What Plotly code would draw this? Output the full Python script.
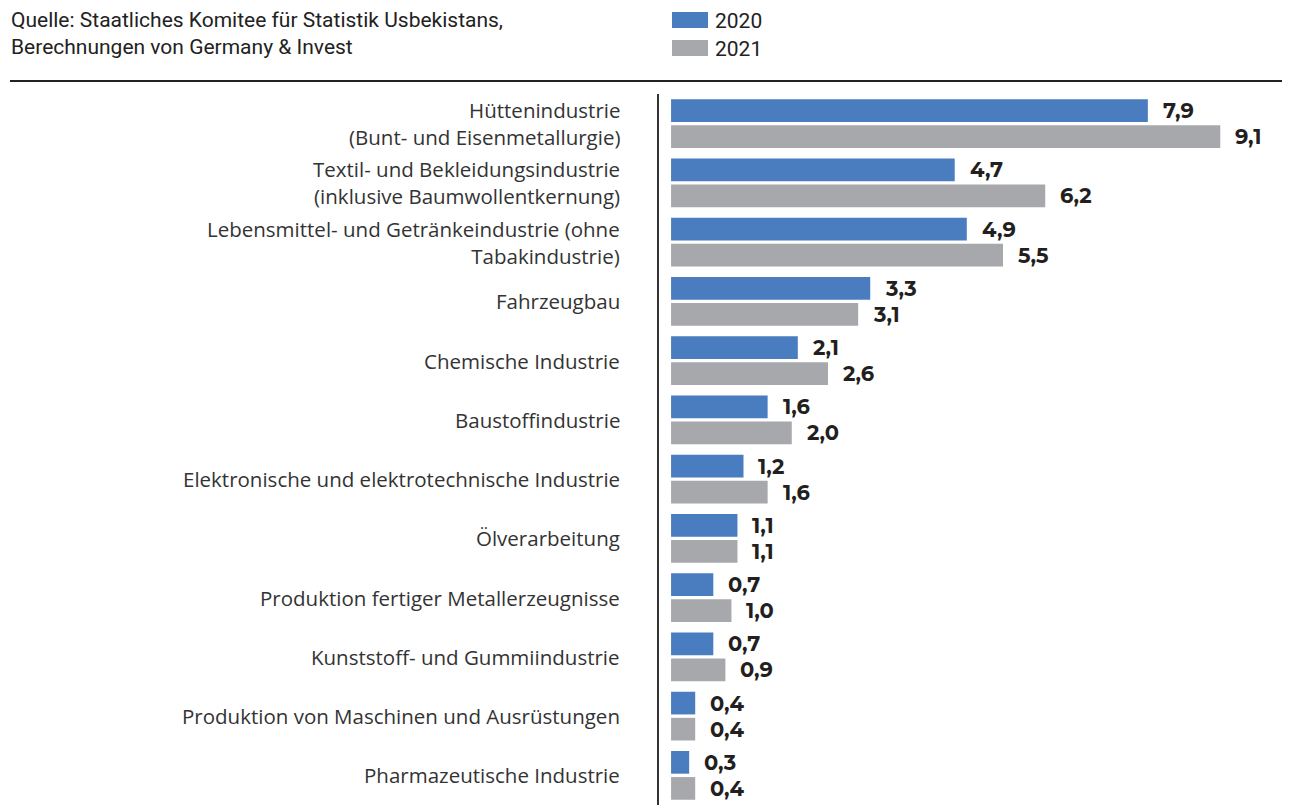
import plotly.graph_objects as go

categories = [
    "Hüttenindustrie<br>(Bunt- und Eisenmetallurgie)",
    "Textil- und Bekleidungsindustrie<br>(inklusive Baumwollentkernung)",
    "Lebensmittel- und Getränkeindustrie (ohne<br>Tabakindustrie)",
    "Fahrzeugbau",
    "Chemische Industrie",
    "Baustoffindustrie",
    "Elektronische und elektrotechnische Industrie",
    "Ölverarbeitung",
    "Produktion fertiger Metallerzeugnisse",
    "Kunststoff- und Gummiindustrie",
    "Produktion von Maschinen und Ausrüstungen",
    "Pharmazeutische Industrie",
]
values_2020 = [7.9, 4.7, 4.9, 3.3, 2.1, 1.6, 1.2, 1.1, 0.7, 0.7, 0.4, 0.3]
values_2021 = [9.1, 6.2, 5.5, 3.1, 2.6, 2.0, 1.6, 1.1, 1.0, 0.9, 0.4, 0.4]
series_names = ["2020", "2021"]
source_text = "Quelle: Staatliches Komitee für Statistik Usbekistans,<br>Berechnungen von Germany & Invest"

BLUE = "#4a7cc0"
GRAY = "#a7a8ac"
TXT = "#333333"
keys = [f"c{i}" for i in range(len(categories))]

# page body has an 8px margin -> figure is drawn from (8, 8)
OFF = 8
W, H = 1290 - OFF, 805 - OFF
L, T = 659 - OFF, 94 - OFF
PW, PH = W - L, H - T


def px(xabs):
    return (xabs - OFF - L) / PW


def py(yabs):
    return (H - (yabs - OFF)) / PH


fig = go.Figure()
for name, vals, col in [(series_names[0], values_2020, BLUE), (series_names[1], values_2021, GRAY)]:
    fig.add_trace(go.Bar(
        name=name, y=keys, x=vals, orientation="h",
        marker=dict(color=col, line=dict(width=0)),
        showlegend=False, hoverinfo="x+name",
    ))

annotations = []
for k, c in zip(keys, categories):
    annotations.append(dict(
        x=0, xref="paper", y=k, yref="y", xanchor="right", yanchor="middle",
        xshift=-37, text=c, align="right", showarrow=False,
        font=dict(family="Open Sans", size=20.5, color=TXT),
    ))

for vals, off in [(values_2020, -13), (values_2021, 13)]:
    for k, v in zip(keys, vals):
        annotations.append(dict(
            x=v, xref="x", y=k, yref="y", xanchor="left", yanchor="middle",
            xshift=13, yshift=-off, text=f"<b>{v:.1f}</b>".replace(".", ","),
            showarrow=False, font=dict(family="Montserrat, Open Sans", size=21, color="#231f20"),
        ))

annotations.append(dict(
    x=px(9), xref="paper", y=py(6), yref="paper",
    xanchor="left", yanchor="top", align="left", text=source_text, showarrow=False,
    font=dict(family="Roboto", size=21, color="#222222"),
))

shapes = []
for i, (name, col) in enumerate(zip(series_names, [BLUE, GRAY])):
    top = 12 + i * 28
    shapes.append(dict(
        type="rect", xref="paper", yref="paper",
        x0=px(672), x1=px(708), y0=py(top + 16), y1=py(top),
        fillcolor=col, line=dict(width=0),
    ))
    annotations.append(dict(
        x=px(713), xref="paper", y=py(top + 9), yref="paper",
        xanchor="left", yanchor="middle", text=name, showarrow=False,
        font=dict(family="Roboto", size=21, color="#222222"),
    ))

shapes.append(dict(
    type="line", xref="paper", yref="paper",
    x0=px(10), x1=px(1290), y0=py(81), y1=py(81),
    line=dict(color="#222222", width=2),
))

fig.update_layout(
    width=W, height=H,
    margin=dict(l=L, r=0, t=T, b=0),
    paper_bgcolor="white", plot_bgcolor="white",
    barmode="group", bargap=0.12, bargroupgap=0.13,
    xaxis=dict(range=[-0.2, -0.2 + PW / 60.35], visible=False, fixedrange=True),
    yaxis=dict(
        categoryorder="array", categoryarray=keys, autorange="reversed",
        showticklabels=False, showgrid=False, zeroline=False,
        showline=True, linecolor="#333333", linewidth=2,
    ),
    annotations=annotations, shapes=shapes,
)
fig.write_html("out.html")
